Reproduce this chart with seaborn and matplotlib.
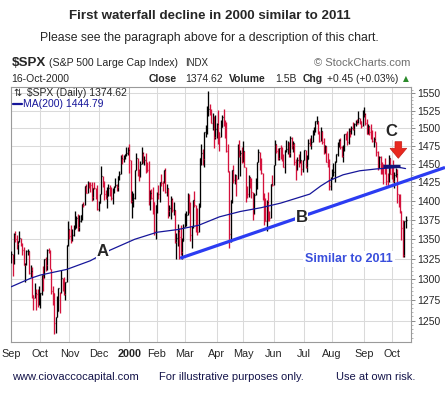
# S&P 500 daily HLC bars, Sep 1999 - Oct 2000, with 200-day MA
import numpy as np
import pandas as pd
import matplotlib
matplotlib.use("Agg")
import matplotlib.pyplot as plt
from matplotlib.patches import Polygon
import seaborn as sns

# Data
prev_close = 1320.41  # last close of Aug 1999, used for the colour of the first bar

close = [
    1331.07, 1319.11, 1357.24, 1350.45, 1344.15, 1347.66, 1351.66, 1344.13, 1336.29, 1317.97,
    1318.48, 1335.42, 1335.53, 1307.58, 1310.51, 1280.41, 1277.36, 1283.31, 1282.20, 1268.37, 1282.71,
    1282.81, 1304.60, 1301.35, 1325.40, 1317.64, 1336.02, 1335.21, 1313.04, 1285.55, 1283.42,
    1247.41, 1254.13, 1261.32, 1289.43, 1283.61, 1301.65, 1293.63, 1281.91, 1296.71, 1342.44, 1362.93,
    1354.12, 1347.74, 1354.93, 1362.64, 1370.23, 1377.01, 1365.28, 1373.46, 1381.46, 1396.06,
    1394.39, 1420.07, 1410.71, 1424.94, 1422.00, 1420.94, 1404.64, 1417.08, 1416.62, 1407.83, 1388.91,
    1397.72, 1409.04, 1433.30, 1423.33, 1409.17, 1403.88, 1408.11, 1417.04, 1415.22, 1403.17,
    1413.32, 1418.78, 1421.03, 1418.09, 1433.43, 1436.13, 1458.34, 1457.10, 1457.66, 1463.46, 1464.47, 1469.25,
    1455.22, 1399.42, 1402.11, 1403.45, 1441.47, 1457.60, 1438.56, 1432.25, 1449.68, 1465.15,
    1455.14, 1455.90, 1445.57, 1441.36, 1401.53, 1410.03, 1404.09, 1398.56, 1360.16, 1394.46,
    1409.28, 1409.12, 1424.97, 1424.37, 1424.24, 1441.72, 1411.71, 1416.83, 1387.12, 1389.94,
    1402.05, 1387.67, 1388.26, 1346.09, 1352.17, 1360.69, 1353.43, 1333.36, 1348.05, 1366.42,
    1379.19, 1381.76, 1409.17, 1391.28, 1355.62, 1366.70, 1401.69, 1395.07, 1383.62, 1359.15,
    1392.14, 1458.47, 1464.47, 1456.63, 1493.87, 1500.64, 1527.35, 1527.46, 1523.86, 1507.73, 1508.52, 1487.92, 1498.58,
    1505.97, 1494.73, 1487.37, 1501.34, 1516.35, 1504.46, 1500.59, 1467.17, 1440.51, 1356.56,
    1401.44, 1441.61, 1427.47, 1434.54, 1429.86, 1477.44, 1460.99, 1464.92, 1452.43,
    1468.25, 1446.29, 1415.10, 1409.57, 1432.63, 1424.17, 1412.14, 1383.05, 1407.81, 1420.96,
    1452.36, 1466.04, 1447.80, 1437.21, 1406.95, 1400.72, 1373.86, 1399.05, 1381.52, 1378.02, 1422.45, 1420.60,
    1448.81, 1477.26, 1467.63, 1457.84, 1471.36, 1461.67, 1456.95, 1446.00, 1469.44, 1470.54,
    1478.73, 1464.46, 1486.00, 1475.95, 1479.13, 1452.18, 1441.48, 1455.31, 1450.55, 1454.82, 1442.39, 1454.60,
    1469.54, 1446.23, 1456.67, 1478.90, 1475.62, 1480.88, 1492.92, 1495.84, 1509.98, 1510.49,
    1493.74, 1481.96, 1495.57, 1480.19, 1464.29, 1474.47, 1452.42, 1449.62, 1419.89, 1430.83,
    1438.10, 1438.70, 1452.56, 1462.93, 1479.32, 1482.80, 1472.87, 1460.25, 1471.84, 1491.56,
    1484.43, 1479.85, 1496.07, 1491.72, 1499.48, 1498.13, 1505.97, 1508.31, 1506.45, 1514.09, 1509.84, 1502.59, 1517.68,
    1520.77, 1507.08, 1492.25, 1502.51, 1494.50, 1489.26, 1481.99, 1484.91, 1480.87, 1465.81,
    1444.51, 1459.90, 1451.34, 1449.05, 1448.72, 1439.03, 1427.21, 1426.57, 1458.29, 1436.51,
    1436.23, 1426.46, 1434.32, 1436.28, 1408.99, 1402.03, 1387.02, 1364.59, 1329.78, 1374.17, 1374.62,
]

high = [
    1335, 1331, 1357.7, 1361, 1355, 1348, 1361, 1352, 1345, 1340,
    1320, 1336, 1338, 1335, 1317, 1315, 1281, 1295, 1288, 1288, 1291,
    1283, 1305, 1316, 1325.5, 1328, 1337, 1339, 1336, 1313, 1292,
    1283, 1254.5, 1279, 1289.5, 1283.7, 1311, 1301.7, 1303, 1297, 1342.5, 1373,
    1362.9, 1369, 1363, 1369, 1387, 1380, 1383, 1382, 1382, 1396.1,
    1398, 1420.4, 1423, 1426, 1425, 1425, 1425, 1417.1, 1425, 1416.7, 1421,
    1400, 1409.1, 1447.4, 1434, 1426, 1415, 1418, 1422, 1421, 1418,
    1417, 1420, 1431, 1423, 1433.5, 1440, 1462, 1463, 1462, 1463.5, 1473, 1473,
    1478, 1455, 1413, 1411, 1441.5, 1464.4, 1458.7, 1442.6, 1454, 1473,
    1465.7, 1461, 1465, 1453, 1454, 1414, 1416, 1418, 1398.6, 1394.5,
    1412, 1420.6, 1425.8, 1435.9, 1427, 1441.8, 1444.6, 1422, 1416.8, 1394,
    1407, 1404, 1399, 1388.6, 1358, 1370, 1364, 1369, 1351, 1369.6,
    1383.5, 1387, 1410.9, 1409.2, 1397.9, 1367.7, 1401.7, 1413, 1395, 1390,
    1397, 1458.5, 1477, 1470, 1493.9, 1505, 1532, 1552.9, 1534.6, 1527, 1521, 1517, 1519,
    1507, 1526.5, 1494.7, 1511, 1518.7, 1527.2, 1512, 1509, 1477.7, 1440.5,
    1401.5, 1441.7, 1448, 1435.5, 1434.5, 1477.7, 1482.9, 1469, 1473,
    1481.5, 1468.3, 1446.3, 1420, 1435, 1432.6, 1430, 1412, 1410, 1430,
    1452.4, 1470, 1466, 1458, 1437.2, 1410, 1403.8, 1401, 1411.6, 1386, 1422.5, 1434.5,
    1448.9, 1483.6, 1477.3, 1471.4, 1471.4, 1475.6, 1473.6, 1462.9, 1469.5, 1483.6,
    1482, 1480.8, 1488.9, 1487.3, 1482.2, 1479.2, 1456.3, 1459.7, 1463, 1467.6, 1454.9, 1454.7,
    1469.6, 1469.6, 1461.7, 1484.1, 1486.6, 1489.9, 1497.8, 1501.4, 1510, 1517.3,
    1510.5, 1495.6, 1501.9, 1495.6, 1485.9, 1476.2, 1474.5, 1464.8, 1456.7, 1432.7,
    1443.5, 1451.6, 1454.2, 1464.1, 1480.8, 1484.5, 1486.6, 1475.2, 1475.7, 1491.6,
    1493.4, 1496, 1499.5, 1499.5, 1502.8, 1508.5, 1507.2, 1511.2, 1513.5, 1523.9, 1514.9, 1510.5, 1525.2,
    1530.1, 1520.8, 1512.6, 1506.4, 1502.5, 1506, 1496.9, 1487.5, 1496.3, 1480.9,
    1467.5, 1461.2, 1460.2, 1452.8, 1449.1, 1457.4, 1448, 1437.2, 1461.7, 1458.3,
    1445.6, 1454.8, 1438.8, 1443.8, 1443.3, 1409.7, 1408.8, 1387, 1374.8, 1374.2, 1379.5,
]

low = [
    1320, 1304, 1319, 1346, 1337, 1331, 1347, 1341, 1330, 1317,
    1297, 1318, 1330, 1306, 1303, 1277, 1263, 1277, 1262, 1266, 1268,
    1265, 1281, 1286, 1301, 1310, 1311, 1332, 1312, 1282, 1268,
    1233.7, 1235, 1254, 1261, 1259, 1283, 1286, 1281, 1275, 1296.7, 1342,
    1350, 1345, 1348, 1354, 1363, 1365, 1361, 1360, 1372, 1375,
    1392, 1394, 1410, 1410.7, 1417, 1412, 1400, 1401, 1416, 1402, 1388,
    1387, 1397, 1409, 1418, 1401, 1402, 1391, 1406, 1407, 1401,
    1396, 1410, 1418, 1413, 1413, 1428, 1436, 1450, 1452, 1456, 1461, 1462,
    1438, 1397, 1378, 1392, 1403, 1441, 1434, 1427, 1432, 1449.7,
    1451, 1448, 1438, 1439, 1395, 1388, 1402, 1383, 1356, 1350,
    1384, 1403, 1398, 1420, 1413, 1424, 1411, 1406, 1378, 1380,
    1376, 1385, 1382, 1345, 1325, 1342, 1325, 1330, 1325.1, 1348,
    1366, 1367, 1381.8, 1384, 1348, 1339, 1364, 1392, 1359, 1356,
    1359, 1392, 1448, 1448, 1446, 1487, 1492, 1516.8, 1518, 1507, 1497, 1472, 1484,
    1486, 1478, 1468, 1487, 1501, 1503, 1486, 1466, 1439, 1339.4,
    1346, 1397, 1424, 1422, 1407, 1429.9, 1460, 1434, 1451,
    1452.4, 1445, 1398, 1404, 1405, 1417, 1404, 1375, 1383, 1407.8,
    1416, 1452, 1441, 1436, 1401, 1368, 1373, 1361, 1373, 1374, 1378, 1420,
    1420.6, 1448.8, 1464.7, 1454.7, 1455, 1456, 1454, 1445, 1437, 1467,
    1463, 1460, 1459, 1470, 1466, 1448, 1428, 1441.5, 1445, 1450.5, 1434.6, 1438.7,
    1454.6, 1443.6, 1439, 1456.7, 1474, 1470, 1480.9, 1489.7, 1494.6, 1505.3,
    1491, 1480, 1482, 1477.5, 1463, 1464.3, 1452.4, 1445.3, 1413.9, 1413.9,
    1429, 1433.5, 1425.4, 1452.6, 1460.7, 1472.6, 1470.8, 1459.5, 1453, 1468.2,
    1482.7, 1475.7, 1478, 1488, 1491.7, 1497.4, 1489.5, 1503.4, 1505.7, 1506.5, 1505.5, 1500.4, 1502.6,
    1515.5, 1504.4, 1492.1, 1492.2, 1490.5, 1483.8, 1479.7, 1473.6, 1479.7, 1460.2,
    1441.3, 1444.5, 1436, 1436.3, 1421.9, 1435.9, 1421.4, 1419.4, 1425.8, 1436.3,
    1429.8, 1425.3, 1416.6, 1431.4, 1397, 1392.5, 1383.7, 1349.2, 1328, 1327.1, 1365.1,
]

# 200-day moving average, read at a few trading days
ma_day = [0, 14, 21, 40, 57, 71, 89, 105, 120, 135, 150, 165, 180, 194, 208, 215, 223, 229,
          239, 251, 263, 273, 279, 284]
ma_val = [1290.6, 1301, 1305, 1312, 1322.8, 1336, 1350, 1359, 1362.5, 1368, 1379, 1386, 1391,
          1397, 1405, 1409, 1420, 1427, 1435, 1440.5, 1443, 1444.3, 1445.3, 1443.5]

# month starts (trading-day number) and labels
month_day = [0, 21, 42, 63, 85, 105, 125, 148, 167, 189, 211, 231, 254, 274]
month_lab = ["Sep", "Oct", "Nov", "Dec", "2000", "Feb", "Mar", "Apr", "May", "Jun",
             "Jul", "Aug", "Sep", "Oct"]
price_ticks = list(range(1250, 1551, 25))

df = pd.DataFrame({"close": close, "high": high, "low": low})
df["day"] = np.arange(len(df))
df["prev"] = [prev_close] + close[:-1]
df["color"] = np.where(df["close"] > df["prev"], "#000000", "#d4123c")
ma = pd.DataFrame({"day": ma_day, "ma": ma_val})

# Style
sns.set_theme(style="white")
plt.rcParams["font.family"] = ["Liberation Sans", "DejaVu Sans"]

W, H = 445, 399
fig = plt.figure(figsize=(W / 100, H / 100), dpi=100)
ax = fig.add_axes([10.7 / W, 1 - 342.3 / H, 400 / W, 255 / H])

def fx(px):
    return px / W

def fy(py):
    return 1 - py / H

# Bars
ax.vlines(df["day"], df["low"], df["high"], colors=df["color"], lw=0.95, zorder=3)
ax.hlines(df["close"], df["day"], df["day"] + 0.7, colors=df["color"], lw=0.95, zorder=3)

# Moving average
sns.lineplot(data=ma, x="day", y="ma", color="#16169a", lw=0.9, ax=ax, zorder=4)

# Axes
ax.set_yscale("log")
ax.set_ylim(1224.5, 1559)
ax.set_xlim(-0.3, 287.7)
ax.set_yticks(price_ticks)
ax.set_yticklabels([str(t) for t in price_ticks], fontsize=7.5)
ax.set_yticks(list(range(1230, 1560, 5)), minor=True)
ax.yaxis.set_minor_formatter(matplotlib.ticker.NullFormatter())
ax.yaxis.tick_right()
ax.tick_params(axis="y", which="major", length=3, width=0.6, pad=1.5, color="#777777", right=True, left=False)
ax.tick_params(axis="y", which="minor", length=1.5, width=0.5, color="#999999", right=True, left=False)
ax.set_xticks(month_day)
ax.set_xticklabels(month_lab, fontsize=7.8)
ax.tick_params(axis="x", length=0, pad=5)
for lab in ax.get_xticklabels():
    if lab.get_text() == "2000":
        lab.set_fontweight("bold")
ax.set_xlabel("")
ax.set_ylabel("")

for t in price_ticks:
    ax.axhline(t, color="#dadada", lw=0.75, zorder=1)
for d, lab in zip(month_day, month_lab):
    ax.axvline(d, color="#b4b4b4" if lab == "2000" else "#dadada", lw=0.75, zorder=1)
for s in ax.spines.values():
    s.set_color("#9a9a9a")
    s.set_linewidth(0.8)

# Annotations
ax.plot([121.7, 312.4], [1326, 1445], color="#2b3cf2", lw=2.3, clip_on=False, zorder=5,
        solid_capstyle="butt")
ax.plot([267.8, 280], [1447, 1447], color="#141478", lw=2.4, zorder=6, solid_capstyle="butt")

box = dict(fc="white", ec="none", pad=0.5)
fig.text(fx(102.5), fy(252), "A", fontsize=12, weight="bold", ha="center", va="center", bbox=box, zorder=10)
fig.text(fx(301.5), fy(218), "B", fontsize=12, weight="bold", ha="center", va="center", bbox=box, zorder=10)
fig.text(fx(391.7), fy(131.7), "C", fontsize=12, weight="bold", ha="center", va="center", bbox=box, zorder=10)
fig.text(fx(349), fy(259), "Similar to 2011", fontsize=9, weight="bold", color="#3a4fdc",
         ha="center", va="center", bbox=dict(fc="white", ec="none", pad=1.5), zorder=10)

arrow = [(395, 141.7), (401.7, 141.7), (401.7, 148.3), (406.7, 148.3), (398.3, 158.3),
         (390, 148.3), (395, 148.3)]
fig.patches.append(Polygon([(fx(x), fy(y)) for x, y in arrow], closed=True,
                           transform=fig.transFigure, fc="#e8281e", ec="#c81a14", lw=0.5, zorder=10))

# Legend inside plot
fig.text(fx(13), fy(92.7), "⇅", fontsize=7, family="DejaVu Sans", ha="left", va="center")
fig.text(fx(26.7), fy(92.7), "$SPX (Daily) 1374.62", fontsize=7.5, ha="left", va="center")
fig.add_artist(plt.Line2D([fx(13), fx(21.5)], [fy(104.3), fy(104.3)], color="#16169a", lw=1.6))
fig.text(fx(23.3), fy(104.3), "MA(200) 1444.79", fontsize=7.5, color="#16169a", ha="left", va="center")

# Header
fig.text(fx(210), fy(16), "First waterfall decline in 2000 similar to 2011", fontsize=9.6,
         weight="bold", ha="center", va="center")
fig.text(fx(209), fy(38.3), "Please see the paragraph above for a description of this chart.",
         fontsize=8.8, ha="center", va="center")

fig.text(fx(12), fy(62.5), "$SPX", fontsize=9.6, weight="bold", ha="left", va="center")
fig.text(fx(49), fy(62.5), "(S&P 500 Large Cap Index)", fontsize=7.6, ha="left", va="center")
fig.text(fx(185.5), fy(62.5), "INDX", fontsize=7, ha="left", va="center")
fig.text(fx(410), fy(62.5), "© StockCharts.com", fontsize=8, color="#6e6e6e", ha="right", va="center")

fig.text(fx(11), fy(78.7), "16-Oct-2000", fontsize=7.5, ha="left", va="center")
for x, s, w in [(149, "Close", "bold"), (185, "1374.62", "normal"), (229.3, "Volume", "bold"),
                (275.3, "1.5B", "normal"), (302.3, "Chg", "bold"), (327.3, "+0.45 (+0.03%)", "normal")]:
    fig.text(fx(x), fy(78.7), s, fontsize=7.5, weight=w, ha="left", va="center")
fig.text(fx(403.3), fy(78.5), "▲", fontsize=5.5, color="#2a8a2a", family="DejaVu Sans",
         ha="left", va="center")

# Footer
fig.text(fx(12.3), fy(377.3), "www.ciovaccocapital.com", fontsize=8, color="#14144a", ha="left", va="center")
fig.text(fx(159.3), fy(377.3), "For illustrative purposes only.", fontsize=8, color="#14144a",
         ha="left", va="center")
fig.text(fx(336), fy(377.3), "Use at own risk.", fontsize=8, color="#14144a", ha="left", va="center")

fig.savefig("out.png", dpi=100)
